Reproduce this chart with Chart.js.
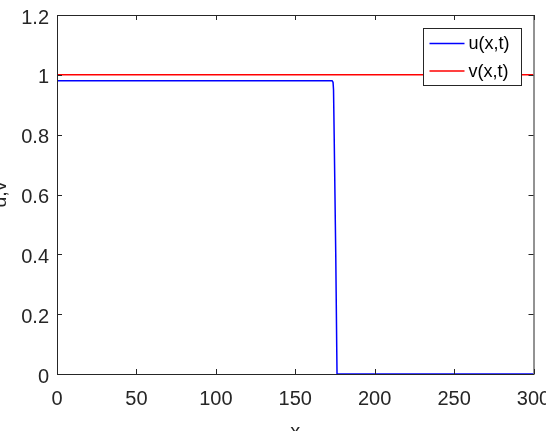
<!DOCTYPE html>
<html>
<head>
<meta charset="utf-8">
<script src="https://cdn.jsdelivr.net/npm/chart.js@4.4.1/dist/chart.umd.min.js"></script>
<style>
    html, body { margin: 0; padding: 0; background: #fff; }
    #wrap { width: 546px; height: 431px; }
</style>
</head>
<body>
<div id="wrap"><canvas id="myChart" width="546" height="431"></canvas></div>
<script>
// u(x,t): flat front that drops to zero near x = 176
let uX = [0, 173.3, 173.8, 174.1, 174.5, 175, 175.5, 176, 176.3, 300];
let uY = [0.98, 0.98, 0.975, 0.95, 0.8, 0.6, 0.4, 0.15, 0, 0];
// v(x,t): constant
let vX = [0, 300];
let vY = [1, 1];

let xTicks = [0, 50, 100, 150, 200, 250, 300];
let yTicks = [0, 0.2, 0.4, 0.6, 0.8, 1, 1.2];

let seriesNames = ["u(x,t)", "v(x,t)"];
let seriesColors = ["rgb(0,0,255)", "rgb(255,0,0)"];

function toPoints(xs, ys) {
    return xs.map(function (x, i) { return { x: x, y: ys[i] }; });
}

let axisColor = "#262626";
let fontFamily = "'Liberation Sans', Arial, sans-serif";

// draws the matlab style box, inward ticks and the framed legend
let boxPlugin = {
    id: "boxPlugin",
    afterDraw: function (chart) {
        let ctx = chart.ctx;
        let a = chart.chartArea;
        let xs = chart.scales.x;
        let ys = chart.scales.y;
        ctx.save();
        ctx.strokeStyle = axisColor;
        ctx.lineWidth = 1;
        ctx.strokeRect(a.left + 0.5, a.top + 0.5, a.right - a.left, a.bottom - a.top);

        ctx.beginPath();
        xTicks.forEach(function (v) {
            let px = Math.round(xs.getPixelForValue(v)) + 0.5;
            ctx.moveTo(px, a.bottom);
            ctx.lineTo(px, a.bottom - 5);
            ctx.moveTo(px, a.top);
            ctx.lineTo(px, a.top + 5);
        });
        yTicks.forEach(function (v) {
            let py = Math.round(ys.getPixelForValue(v)) + 0.5;
            ctx.moveTo(a.left, py);
            ctx.lineTo(a.left + 5, py);
            ctx.moveTo(a.right, py);
            ctx.lineTo(a.right - 5, py);
        });
        ctx.stroke();

        // legend
        let lw = 98, lh = 57;
        let lx = Math.round(a.right - 12.5 - lw) + 0.5;
        let ly = Math.round(a.top + 13) + 0.5;
        ctx.fillStyle = "#fff";
        ctx.fillRect(lx, ly, lw, lh);
        ctx.strokeStyle = axisColor;
        ctx.strokeRect(lx, ly, lw, lh);
        ctx.font = "18px " + fontFamily;
        ctx.textBaseline = "middle";
        ctx.textAlign = "left";
        seriesNames.forEach(function (name, i) {
            let ry = ly + 15 + i * 27.5;
            ctx.strokeStyle = seriesColors[i];
            ctx.lineWidth = 1.5;
            ctx.beginPath();
            ctx.moveTo(lx + 6, ry);
            ctx.lineTo(lx + 41, ry);
            ctx.stroke();
            ctx.fillStyle = "#000";
            ctx.fillText(name, lx + 45, ry + 1);
        });
        ctx.restore();
    }
};

document.addEventListener("DOMContentLoaded", function () {
    let ctx = document.getElementById("myChart").getContext("2d");

    new Chart(ctx, {
        type: "line",
        data: {
            datasets: [
                {
                    label: seriesNames[0],
                    data: toPoints(uX, uY),
                    borderColor: seriesColors[0],
                    borderWidth: 1.5,
                    borderJoinStyle: "round",
                    pointRadius: 0,
                    // tiny tension keeps chart.js off its per-pixel fast path (no spikes)
                    tension: 0.001,
                    fill: false
                },
                {
                    label: seriesNames[1],
                    data: toPoints(vX, vY),
                    borderColor: seriesColors[1],
                    borderWidth: 1.5,
                    pointRadius: 0,
                    tension: 0,
                    fill: false
                }
            ]
        },
        options: {
            responsive: false,
            animation: false,
            events: [],
            layout: {
                padding: { left: 0, right: 12.5, top: 15, bottom: 0 }
            },
            plugins: {
                legend: { display: false },
                tooltip: { enabled: false }
            },
            scales: {
                x: {
                    type: "linear",
                    min: 0,
                    max: 300,
                    afterBuildTicks: function (scale) {
                        scale.ticks = xTicks.map(function (v) { return { value: v }; });
                    },
                    afterFit: function (scale) {
                        scale.height = 57;
                        scale.paddingLeft = 0;
                        scale.paddingRight = 0;
                    },
                    grid: { display: false, drawTicks: false },
                    border: { display: false },
                    ticks: {
                        color: axisColor,
                        padding: 13,
                        maxRotation: 0,
                        autoSkip: false,
                        font: { family: fontFamily, size: 20 }
                    },
                    title: {
                        display: true,
                        text: "x",
                        color: axisColor,
                        padding: { top: 0, bottom: -13 },
                        font: { family: fontFamily, size: 20 }
                    }
                },
                y: {
                    min: 0,
                    max: 1.2,
                    afterBuildTicks: function (scale) {
                        scale.ticks = yTicks.map(function (v) { return { value: v }; });
                    },
                    afterFit: function (scale) {
                        scale.width = 57;
                        scale.paddingTop = 0;
                        scale.paddingBottom = 0;
                    },
                    grid: { display: false, drawTicks: false },
                    border: { display: false },
                    ticks: {
                        color: axisColor,
                        padding: 8,
                        labelOffset: 3,
                        autoSkip: false,
                        font: { family: fontFamily, size: 20 },
                        callback: function (v) { return String(Math.round(v * 10) / 10); }
                    },
                    title: {
                        display: true,
                        text: "u,v",
                        color: axisColor,
                        padding: { top: -12, bottom: 0 },
                        font: { family: fontFamily, size: 20 }
                    }
                }
            }
        },
        plugins: [boxPlugin]
    });
});
</script>
</body>
</html>
